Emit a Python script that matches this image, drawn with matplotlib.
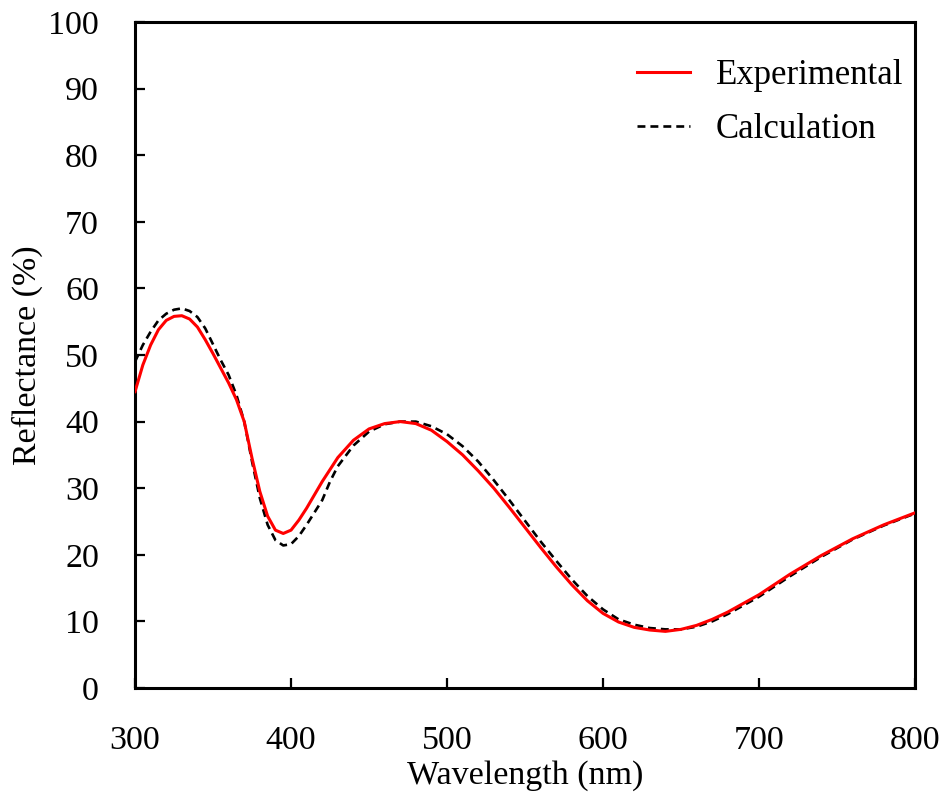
import matplotlib.pyplot as plt
import numpy as np

plt.rcParams["font.family"] = ["Liberation Serif", "DejaVu Serif"]

wl_exp = [300, 305, 310, 315, 320, 325, 330, 335, 340, 345, 350, 355, 360, 365, 370,
          375, 380, 385, 390, 395, 400, 405, 410, 420, 430, 440, 450, 460, 470, 480,
          490, 500, 510, 520, 530, 540, 550, 560, 570, 580, 590, 600, 610, 620, 630,
          640, 650, 660, 670, 680, 690, 700, 720, 740, 760, 780, 800]
refl_exp = [44.5, 48.5, 51.5, 53.8, 55.2, 55.8, 55.9, 55.4, 54.2, 52.3, 50.2, 48.0, 45.8, 43.3, 40.0,
            34.5, 29.5, 25.8, 23.7, 23.2, 23.7, 25.2, 27.0, 31.0, 34.6, 37.2, 38.9, 39.7, 40.0, 39.7,
            38.7, 37.0, 35.0, 32.6, 30.0, 27.1, 24.1, 21.1, 18.2, 15.5, 13.1, 11.2, 9.9, 9.1, 8.7,
            8.5, 8.8, 9.4, 10.3, 11.4, 12.7, 14.0, 17.1, 19.9, 22.4, 24.5, 26.3]

wl_calc = [300, 305, 310, 315, 320, 325, 330, 335, 340, 345, 350, 355, 360, 365, 370,
           375, 380, 385, 390, 395, 400, 405, 410, 420, 425, 430, 440, 450, 460, 470,
           480, 490, 500, 510, 520, 530, 540, 550, 560, 570, 580, 590, 600, 610, 620,
           630, 640, 650, 660, 670, 680, 690, 700, 720, 740, 760, 780, 800]
refl_calc = [49.0, 51.5, 53.5, 55.2, 56.2, 56.8, 57.0, 56.6, 55.7, 54.0, 51.6, 49.2, 47.0, 44.0, 40.0,
             34.0, 28.5, 24.5, 22.2, 21.4, 21.6, 22.8, 24.5, 28.2, 31.0, 33.3, 36.4, 38.5, 39.6, 40.0,
             40.0, 39.3, 38.1, 36.3, 34.0, 31.2, 28.2, 25.1, 22.0, 19.1, 16.3, 13.8, 11.8, 10.3, 9.5,
             9.0, 8.8, 8.8, 9.2, 10.0, 11.1, 12.4, 13.7, 16.8, 19.7, 22.3, 24.4, 26.2]

x_ticks = [300, 400, 500, 600, 700, 800]
y_ticks = np.arange(0, 101, 10)

fig = plt.figure(figsize=(9.43, 8.07), dpi=100)
ax = fig.add_axes([0.1432, 0.1475, 0.8271, 0.8252])

ax.plot(wl_exp, refl_exp, color="#ff0000", lw=2.2, label="Experimental", zorder=3)
ax.plot(wl_calc, refl_calc, color="black", lw=1.9, ls=(0, (3.0, 1.9)), label="Calculation", zorder=2)

ax.set_xlim(300, 800)
ax.set_ylim(0, 100)
ax.set_xticks(x_ticks)
ax.set_yticks(y_ticks)
ax.tick_params(direction="in", length=7, width=1.6, labelsize=24.5)
ax.tick_params(axis="x", pad=27)
ax.tick_params(axis="y", pad=26)
for s in ax.spines.values():
    s.set_linewidth(2.2)

ax.set_xlabel("Wavelength (nm)", fontsize=24.5, labelpad=3)
ax.set_ylabel("Reflectance (%)", fontsize=24.5, labelpad=4)

leg = ax.legend(loc="upper right", frameon=False, fontsize=25, handlelength=1.55,
                handletextpad=0.72, labelspacing=0.6, borderpad=0, borderaxespad=0,
                bbox_to_anchor=(0.9846, 0.944))

fig.savefig("out.png", dpi=100)
